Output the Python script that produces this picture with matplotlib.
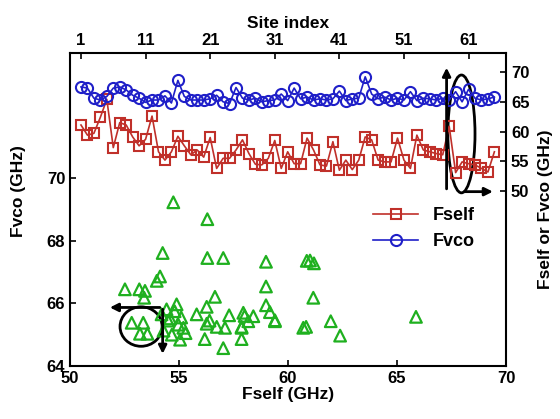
import matplotlib
matplotlib.use("Agg")
import matplotlib.pyplot as plt
import numpy as np
from matplotlib.patches import Ellipse

plt.rcParams['font.family'] = ['Liberation Sans', 'DejaVu Sans']
plt.rcParams['font.weight'] = 'bold'

# per-site data (top / right axes)
fself_site = [61.1, 59.4, 59.7, 62.4, 65.4, 57.3, 61.5, 61.1, 59.1, 57.6,
              58.7, 62.6, 56.6, 55.2, 56.6, 59.2, 57.6, 56.1, 56.9, 55.7,
              59.0, 53.8, 55.5, 55.5, 56.9, 58.6, 56.3, 54.5, 54.4, 55.5,
              58.5, 53.8, 56.6, 54.6, 54.6, 58.9, 56.9, 54.4, 54.2, 58.3,
              53.5, 55.2, 53.6, 55.2, 59.1, 58.6, 55.2, 54.9, 54.9, 58.9,
              55.2, 53.8, 59.4, 56.9, 56.6, 56.3, 56.1, 60.9, 53.1, 54.9,
              54.6, 54.4, 53.8, 53.2, 56.6]
fvco_site = [67.5, 67.3, 65.6, 65.3, 65.9, 67.3, 67.5, 67.0, 66.1, 65.6,
             64.9, 65.3, 65.3, 66.0, 64.8, 68.6, 65.9, 65.3, 65.3, 65.3,
             65.5, 66.1, 65.0, 64.7, 67.4, 65.6, 65.3, 65.6, 65.0, 65.2,
             65.3, 66.3, 65.2, 67.3, 65.5, 65.8, 65.3, 65.5, 65.3, 65.5,
             66.8, 65.2, 65.5, 65.6, 69.2, 66.3, 65.5, 65.8, 65.3, 65.6,
             65.3, 66.7, 65.2, 65.6, 65.5, 65.3, 65.6, 65.3, 66.7, 65.0,
             67.1, 65.6, 65.3, 65.5, 65.8]
site_index = np.arange(1, len(fself_site) + 1)

# scatter data (bottom / left axes)
scatter_fself = [54.74, 56.30, 54.25, 56.30, 57.03, 58.99, 60.86, 54.13, 53.98, 52.52,
                 53.18, 53.44, 53.40, 58.99, 56.65, 54.89, 56.27, 55.81, 58.99, 57.95,
                 58.41, 59.17, 59.40, 58.18, 52.83, 53.36, 53.21, 53.55, 54.43, 54.20,
                 54.59, 54.97, 55.20, 55.05, 54.67, 54.29, 56.27, 56.73, 57.11, 56.18,
                 57.87, 57.87, 57.03, 60.70, 61.01, 61.19, 61.16, 60.83, 61.96, 62.39,
                 65.87, 59.40, 57.87, 58.01, 54.80, 55.10, 54.50, 55.30, 56.40, 57.30]
scatter_fvco = [69.23, 68.69, 67.61, 67.45, 67.45, 67.33, 67.36, 66.86, 66.72, 66.45,
                66.45, 66.40, 66.18, 66.54, 66.21, 65.97, 65.89, 65.65, 65.94, 65.70,
                65.59, 65.72, 65.46, 65.43, 65.38, 65.38, 65.03, 65.03, 65.81, 65.65,
                65.52, 65.32, 65.22, 64.84, 65.00, 65.13, 65.35, 65.25, 65.22, 64.86,
                65.25, 64.86, 64.57, 65.22, 67.37, 67.28, 66.18, 65.25, 65.43, 64.97,
                65.57, 65.43, 65.22, 65.60, 65.75, 65.55, 65.45, 65.05, 65.45, 65.62]

bottom_ticks = [50, 55, 60, 65, 70]
left_ticks = [64, 66, 68, 70]
top_ticks = [1, 11, 21, 31, 41, 51, 61]
right_ticks = [50, 55, 60, 65, 70]

red = '#c0302a'
blue = '#1f1fc8'
green = '#1fb01f'

fig = plt.figure(figsize=(5.6, 4.19), dpi=100)
pos = [0.125, 0.1265, 0.7786, 0.747]
ax = fig.add_axes(pos)
ax.scatter(scatter_fself, scatter_fvco, marker='^', s=70, facecolors='none',
           edgecolors=green, linewidths=1.6, zorder=3)
ax.set_xlim(50, 70)
ax.set_ylim(64, 74)
ax.set_xticks(bottom_ticks)
ax.set_yticks(left_ticks)
ax.tick_params(direction='in', labelsize=12, width=1.2, length=4)
ax.set_xlabel('Fself (GHz)', fontsize=12.5, fontweight='bold', labelpad=1)
ax.set_ylabel('Fvco (GHz)', fontsize=12.5, fontweight='bold')
ax.yaxis.set_label_coords(-0.1, 0.56)
for sp in ax.spines.values():
    sp.set_linewidth(1.5)

# lower-left annotation
ax.add_patch(Ellipse((53.26, 65.26), 1.93, 1.26, fill=False, lw=2, color='k'))
ax.annotate('', xy=(51.7, 65.87), xytext=(54.25, 65.87),
            arrowprops=dict(arrowstyle='-|>', color='k', lw=2, mutation_scale=12))
ax.annotate('', xy=(54.25, 64.3), xytext=(54.25, 65.9),
            arrowprops=dict(arrowstyle='-|>', color='k', lw=2, mutation_scale=12))

ax2 = fig.add_axes(pos)
ax2.patch.set_visible(False)
for sp in ax2.spines.values():
    sp.set_visible(False)
ax2.xaxis.tick_top()
ax2.xaxis.set_label_position('top')
ax2.yaxis.tick_right()
ax2.yaxis.set_label_position('right')
ax2.plot(site_index, fself_site, '-s', color=red, mfc='none', mec=red, ms=7,
         mew=1.5, lw=1.2, label='Fself')
ax2.plot(site_index, fvco_site, '-o', color=blue, mfc='none', mec=blue, ms=8,
         mew=1.5, lw=1.2, label='Fvco')
ax2.set_xlim(-0.7, 66.8)
ax2.set_ylim(20.6, 73.2)
ax2.set_xticks(top_ticks)
ax2.set_yticks(right_ticks)
ax2.tick_params(direction='in', labelsize=12, width=1.2, length=4)
ax2.set_xlabel('Site index', fontsize=12.5, fontweight='bold', labelpad=4)
ax2.set_ylabel('Fself or Fvco (GHz)', fontsize=12.5, fontweight='bold', labelpad=6)

# upper-right annotation
ax2.add_patch(Ellipse((59.9, 59.6), 4.2, 19.8, fill=False, lw=2, color='k'))
ax2.annotate('', xy=(57.6, 71.2), xytext=(57.6, 49.9),
             arrowprops=dict(arrowstyle='-|>', color='k', lw=2, mutation_scale=12))
ax2.annotate('', xy=(65.2, 49.9), xytext=(60.0, 49.9),
             arrowprops=dict(arrowstyle='-|>', color='k', lw=2, mutation_scale=12))

ax2.legend(loc='center left', bbox_to_anchor=(0.695, 0.438), frameon=False,
           fontsize=13, handlelength=2.5, handletextpad=0.8, labelspacing=0.5,
           borderpad=0, borderaxespad=0)

fig.savefig('out.png', dpi=100)
